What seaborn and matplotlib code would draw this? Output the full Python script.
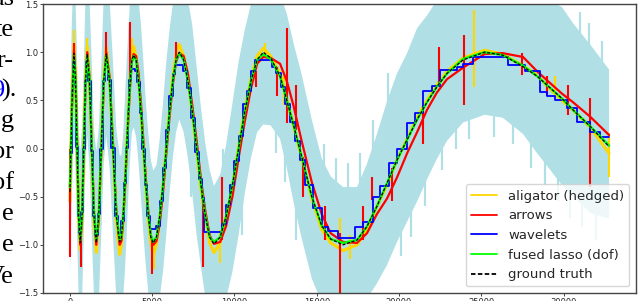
import numpy as np
import pandas as pd
import seaborn as sns
import matplotlib.pyplot as plt

t = [0, 120, 243, 339, 435, 530, 626, 733, 839, 946,
     1052, 1189, 1325, 1462, 1599, 1751, 1903, 2055, 2207, 2410,
     2614, 2817, 3021, 3128, 3234, 3340, 3446, 3552, 3659, 3765,
     3872, 4020, 4170, 4320, 4468, 4617, 4766, 4915, 5064, 5260,
     5459, 5655, 5855, 6050, 6250, 6450, 6645, 6910, 7170, 7435,
     7700, 7965, 8230, 8490, 8754, 9130, 9500, 9875, 10250, 10625,
     11000, 11375, 11751, 12200, 12770, 13180, 13580, 14080, 14700, 15300,
     15850, 16600, 17450, 18050, 18660, 19270, 19880, 20490, 21100, 21700,
     22300, 22920, 23900, 25200, 26300, 27540, 28400, 29180, 29900, 30580,
     31620, 32767]

truth = [-0.45, 0.45, 0.99, 0.70, 0.00, -0.70, -0.98, -0.70, 0.00, 0.70,
         0.98, 0.70, 0.00, -0.70, -0.98, -0.70, 0.00, 0.70, 0.98, 0.70,
         0.00, -0.70, -0.97, -0.92, -0.70, -0.38, 0.00, 0.38, 0.70, 0.92,
         0.97, 0.92, 0.70, 0.38, 0.00, -0.38, -0.70, -0.92, -0.98, -0.92,
         -0.70, -0.38, 0.00, 0.38, 0.70, 0.92, 1.00, 0.92, 0.70, 0.38,
         0.00, -0.38, -0.70, -0.92, -0.99, -0.92, -0.70, -0.38, 0.00, 0.38,
         0.70, 0.92, 1.00, 0.94, 0.75, 0.50, 0.25, -0.08, -0.50, -0.80,
         -0.94, -1.00, -0.95, -0.81, -0.60, -0.36, -0.12, 0.09, 0.30, 0.48,
         0.64, 0.78, 0.92, 1.00, 0.97, 0.85, 0.75, 0.63, 0.52, 0.40,
         0.23, 0.02]

fused = [-0.40, 0.45, 0.96, 0.70, 0.02, -0.68, -0.95, -0.70, 0.00, 0.68,
         0.96, 0.72, 0.02, -0.68, -0.95, -0.70, 0.00, 0.70, 0.96, 0.70,
         0.02, -0.68, -0.95, -0.92, -0.70, -0.38, 0.00, 0.38, 0.70, 0.90,
         0.96, 0.92, 0.70, 0.38, 0.00, -0.38, -0.70, -0.90, -0.97, -0.92,
         -0.70, -0.38, 0.00, 0.38, 0.70, 0.92, 0.99, 0.92, 0.70, 0.38,
         0.00, -0.38, -0.70, -0.92, -0.97, -0.92, -0.70, -0.38, 0.00, 0.38,
         0.70, 0.92, 0.98, 0.93, 0.75, 0.50, 0.25, -0.08, -0.50, -0.80,
         -0.94, -0.98, -0.95, -0.81, -0.60, -0.36, -0.12, 0.09, 0.30, 0.48,
         0.64, 0.78, 0.93, 1.00, 0.97, 0.86, 0.75, 0.63, 0.52, 0.40,
         0.23, 0.03]

aligator = [-0.55, 0.50, 1.08, 0.75, 0.00, -0.72, -1.05, -0.72, 0.02, 0.74,
            1.06, 0.74, 0.00, -0.74, -1.08, -0.74, 0.00, 0.72, 1.05, 0.72,
            0.00, -0.74, -1.10, -1.00, -0.74, -0.40, 0.02, 0.40, 0.74, 0.98,
            1.06, 0.95, 0.72, 0.36, 0.00, -0.40, -0.74, -0.98, -1.12, -0.98,
            -0.72, -0.40, 0.02, 0.40, 0.74, 0.98, 1.08, 0.96, 0.72, 0.36,
            -0.02, -0.42, -0.74, -0.98, -1.08, -0.98, -0.72, -0.40, 0.02, 0.40,
            0.72, 0.96, 1.04, 0.96, 0.78, 0.52, 0.24, -0.10, -0.52, -0.84,
            -0.98, -1.06, -1.00, -0.84, -0.60, -0.38, -0.12, 0.10, 0.32, 0.50,
            0.66, 0.80, 0.94, 1.02, 0.98, 0.86, 0.76, 0.62, 0.50, 0.40,
            0.22, -0.05]

arrows = [-0.40, 0.40, 1.02, 0.74, 0.05, -0.66, -1.00, -0.74, -0.04, 0.66,
          1.00, 0.74, 0.04, -0.66, -1.00, -0.74, -0.04, 0.66, 1.00, 0.74,
          0.06, -0.64, -1.00, -0.96, -0.76, -0.44, -0.06, 0.32, 0.66, 0.90,
          0.98, 0.96, 0.78, 0.46, 0.06, -0.32, -0.66, -0.90, -1.00, -0.96,
          -0.78, -0.46, -0.06, 0.32, 0.66, 0.90, 0.99, 0.96, 0.78, 0.45,
          0.08, -0.32, -0.65, -0.90, -0.99, -0.97, -0.80, -0.50, -0.10, 0.28,
          0.62, 0.88, 0.95, 0.94, 0.88, 0.70, 0.45, 0.08, -0.35, -0.68,
          -0.88, -0.97, -0.98, -0.88, -0.68, -0.52, -0.30, -0.05, 0.17, 0.40,
          0.58, 0.72, 0.84, 0.98, 0.99, 0.95, 0.80, 0.68, 0.57, 0.48,
          0.33, 0.14]

# spread of the noisy observations above / below the truth
noise_up = [0.85, 0.9, 0.9, 0.85, 0.9, 0.9, 0.95, 0.9, 0.85, 0.9,
            0.9, 0.85, 0.9, 0.9, 0.95, 0.9, 0.85, 0.9, 0.9, 0.85,
            0.9, 0.9, 0.9, 0.85, 0.85, 0.9, 0.9, 0.85, 0.85, 0.8,
            0.8, 0.8, 0.85, 0.9, 0.9, 0.85, 0.85, 0.8, 0.75, 0.75,
            0.8, 0.85, 0.9, 0.85, 0.8, 0.8, 0.8, 0.8, 0.85, 0.9,
            0.85, 0.8, 0.75, 0.7, 0.6, 0.65, 0.75, 0.85, 0.9, 0.85,
            0.8, 0.75, 0.75, 0.8, 0.85, 0.9, 0.85, 0.85, 0.8, 0.7,
            0.65, 0.6, 0.55, 0.65, 0.75, 0.85, 0.9, 0.9, 0.95, 0.9,
            0.9, 0.85, 0.8, 0.8, 0.8, 0.85, 0.9, 0.9, 0.95, 0.9,
            0.85, 0.8]
noise_dn = [0.85, 0.9, 0.85, 0.9, 0.9, 0.85, 0.9, 0.9, 0.9, 0.85,
            0.85, 0.9, 0.9, 0.85, 0.9, 0.9, 0.9, 0.85, 0.85, 0.9,
            0.9, 0.85, 0.9, 0.85, 0.85, 0.9, 0.9, 0.85, 0.8, 0.75,
            0.75, 0.8, 0.85, 0.9, 0.9, 0.85, 0.8, 0.8, 0.8, 0.8,
            0.85, 0.9, 0.9, 0.85, 0.8, 0.75, 0.7, 0.75, 0.8, 0.85,
            0.9, 0.85, 0.85, 0.8, 0.8, 0.8, 0.85, 0.9, 0.9, 0.85,
            0.8, 0.75, 0.75, 0.7, 0.65, 0.7, 0.8, 0.85, 0.85, 0.8,
            0.75, 0.7, 0.7, 0.75, 0.8, 0.85, 0.85, 0.85, 0.85, 0.8,
            0.75, 0.7, 0.65, 0.65, 0.65, 0.7, 0.8, 0.85, 0.9, 0.9,
            0.9, 0.75]

# wavelet estimate: piecewise constant (step starts and levels)
wave_x = [0, 120, 190, 300, 390, 480, 580, 690, 790, 890,
          1000, 1120, 1260, 1400, 1530, 1680, 1830, 1980, 2130, 2300,
          2510, 2710, 2920, 3130, 3290, 3400, 3500, 3610, 3720, 3950,
          4100, 4250, 4400, 4540, 4690, 4840, 5250, 5450, 5650, 5850,
          6050, 6250, 6380, 6870, 7100, 7350, 7600, 7850, 8000, 8150,
          9240, 9500, 9750, 10000, 10250, 10500, 10750, 11000, 11250, 12280,
          12500, 12800, 13100, 13400, 13700, 14000, 14300, 14770, 15320, 15690,
          16290, 17330, 17840, 18400, 18850, 19400, 19900, 20490, 20980, 21460,
          22010, 22500, 23530, 23890, 24500, 26630, 27660, 28580, 29000, 29490,
          30220, 30830, 31620, 32220, 32767]
wave_y = [-0.05, 0.60, 0.90, 0.66, 0.02, -0.70, -0.88, -0.66, 0.00, 0.70,
          0.90, 0.70, -0.03, -0.70, -0.90, -0.68, 0.00, 0.70, 0.88, 0.71,
          0.01, -0.70, -0.88, -0.75, -0.36, 0.01, 0.39, 0.71, 0.83, 0.80,
          0.69, 0.37, 0.00, -0.38, -0.70, -0.84, -0.80, -0.55, -0.20, 0.19,
          0.54, 0.77, 0.87, 0.80, 0.63, 0.32, -0.04, -0.32, -0.51, -0.87,
          -0.78, -0.59, -0.38, -0.13, 0.13, 0.46, 0.60, 0.80, 0.92, 0.85,
          0.78, 0.64, 0.46, 0.28, 0.08, -0.12, -0.38, -0.62, -0.81, -0.86,
          -0.93, -0.81, -0.76, -0.50, -0.39, -0.15, 0.00, 0.26, 0.37, 0.60,
          0.65, 0.81, 0.85, 0.88, 0.95, 0.87, 0.80, 0.59, 0.55, 0.50,
          0.42, 0.28, 0.17, 0.12, 0.12]

# isolated spikes (x, low end, high end)
arrow_spk_x = [0, 250, 700, 2170, 3630, 5000, 6445, 8105, 9220, 11310,
               12570, 13175, 13723, 14185, 15480, 16416, 17833, 18360, 19560, 21480,
               22450, 23955, 27460, 28980, 30260, 31616]
arrow_spk_lo = [-1.13, 0.95, -1.23, 0.90, 0.60, -1.30, 0.90, -1.23, -0.95, 0.64,
                0.54, 0.26, 0.19, -0.50, -0.95, -1.60, -0.95, -0.53, -0.55, 0.05,
                0.68, 0.45, 0.76, 0.55, 0.35, -0.40]
arrow_spk_hi = [0.00, 1.10, -0.90, 1.21, 1.31, -0.95, 1.11, -0.55, -0.30, 0.80,
                0.85, 1.25, 0.66, -0.09, -0.60, -0.88, -0.60, -0.30, -0.20, 0.45,
                1.05, 1.18, 0.99, 0.75, 0.66, 0.52]

gold_spk_x = [243, 1052, 3800, 5100, 9120, 11850, 13000, 16400, 17000, 24560, 29500, 32767]
gold_spk_lo = [0.95, 0.95, 0.90, -1.25, -1.19, 0.95, 0.45, -1.30, -1.15, 0.64, 0.55, -0.30]
gold_spk_hi = [1.23, 1.15, 1.15, -0.95, -0.85, 1.10, 0.80, -0.72, -0.90, 1.44, 0.75, 0.16]

# single noisy samples sticking out of the band
noise_spk_x = [7350, 9300, 10450, 12500, 13100, 13750, 15450, 16150, 16900, 17650,
               18450, 19350, 20150, 20750, 21550, 22600, 23450, 24250, 25800, 26950,
               28050, 28900, 29650, 30400, 31000, 31150, 31550, 31950, 32350]
noise_spk_lo = [-0.50, -0.84, -0.90, -0.05, -0.35, -0.95, -0.84, -0.96, -0.98, -0.90,
                -0.68, -0.33, -1.12, -0.92, -0.60, -0.22, 0.00, 0.10, 0.12, 0.05,
                -0.20, -0.38, -0.55, -0.72, 0.33, -0.82, 0.24, -0.95, 0.10]
noise_spk_hi = [0.50, 0.00, 0.20, 0.84, 0.55, 0.15, 0.05, -0.10, -0.15, -0.05,
                0.30, 0.78, -0.03, 0.18, 0.44, 0.71, 0.86, 0.95, 0.98, 0.92,
                0.80, 0.68, 0.56, 0.43, 1.42, 0.31, 1.30, 0.18, 1.12]

x_ticks = [0, 5000, 10000, 15000, 20000, 25000, 30000]
y_ticks = [-1.5, -1.0, -0.5, 0.0, 0.5, 1.0, 1.5]

# fragments of the neighbouring paper column
paper_text = ["as", "te", "r-", ").", "g", "or", "of", "e", "e", "Ve"]
paper_base = [5, 36, 67, 97, 127, 158, 189, 220, 251, 283]

sns.set_theme(style='ticks')
plt.rcParams['font.family'] = ['DejaVu Sans']

df = pd.DataFrame({'t': t, 'truth': truth, 'fused': fused, 'aligator': aligator,
                   'arrows': arrows, 'up': noise_up, 'dn': noise_dn})

fig = plt.figure(figsize=(6.4, 3.01), dpi=100)
ax = fig.add_axes([43/640, 8/301, 593/640, 289/301])

ax.fill_between(df['t'], df['truth'] - df['dn'], df['truth'] + df['up'],
                color='powderblue', lw=0)
ax.vlines(noise_spk_x, noise_spk_lo, noise_spk_hi, color='powderblue', lw=1.6)

sns.lineplot(x=df['t'], y=df['aligator'], color='gold', lw=2.2,
             label='aligator (hedged)', ax=ax)
ax.vlines(gold_spk_x, gold_spk_lo, gold_spk_hi, color='gold', lw=1.5)
sns.lineplot(x=df['t'], y=df['arrows'], color='red', lw=1.6, label='arrows', ax=ax)
ax.vlines(arrow_spk_x, arrow_spk_lo, arrow_spk_hi, color='red', lw=1.5)
sns.lineplot(x=wave_x, y=wave_y, color='blue', lw=1.3, drawstyle='steps-post',
             estimator=None, sort=False, label='wavelets', ax=ax)
sns.lineplot(x=df['t'], y=df['fused'], color='lime', lw=1.7,
             label='fused lasso (dof)', ax=ax)
sns.lineplot(x=df['t'], y=df['truth'], color='black', lw=0.9,
             linestyle=(0, (2.5, 1.3)), label='ground truth', ax=ax)

ax.set_ylim(-1.5, 1.5)
ax.set_xticks(x_ticks)
ax.set_yticks(y_ticks)
ax.set(xlabel='', ylabel='')
ax.tick_params(labelsize=6, length=2.5, width=0.6, pad=0.8)
for s in ax.spines.values():
    s.set_linewidth(1.0)
    s.set_color('#444444')

leg = ax.legend(loc='lower right', fontsize=9.5, frameon=True)
for h in leg.get_lines():
    h.set_linewidth(1.3)

for s, b in zip(paper_text, paper_base):
    xr = 17 if s == ")." else 14
    fig.text(xr/640, 1 - b/301, s, ha='right', va='baseline', fontsize=19,
             family=['Liberation Serif', 'DejaVu Serif'], color='black')
fig.text(4/640, 1 - 97/301, "9", ha='right', va='baseline', fontsize=19,
         family=['Liberation Serif', 'DejaVu Serif'], color='blue')

fig.savefig('out.png', dpi=100)
